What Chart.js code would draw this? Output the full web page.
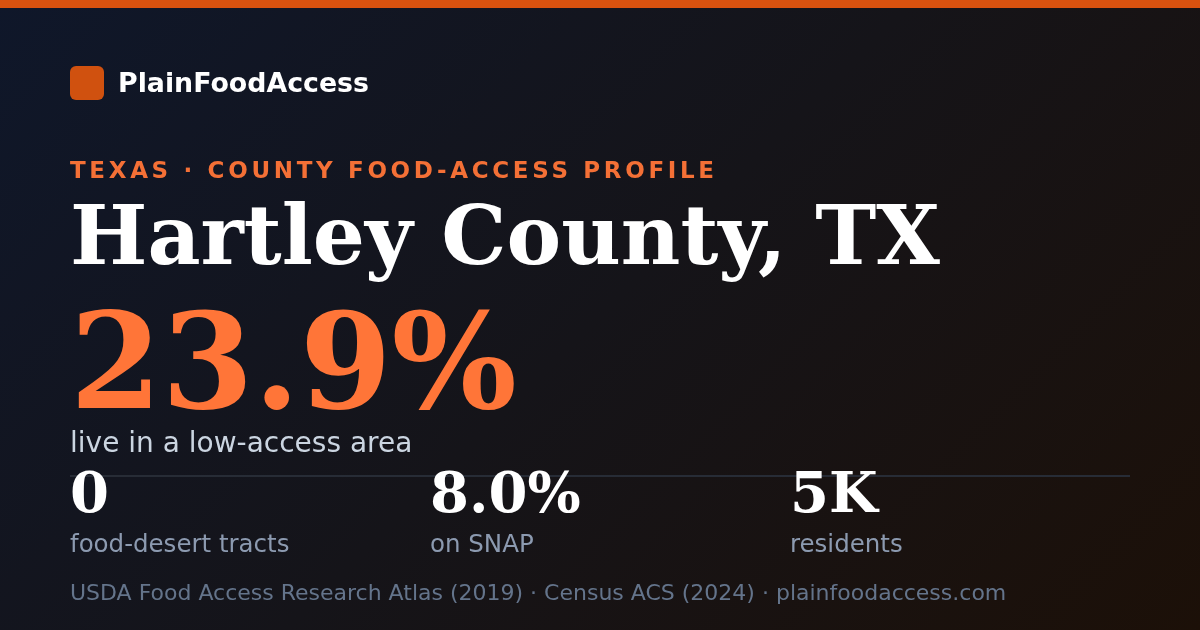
<!DOCTYPE html>
<html>
<head>
<meta charset="utf-8">
<script src="https://cdn.jsdelivr.net/npm/chart.js@4.4.1/dist/chart.umd.min.js"></script>
<style>
  html, body { margin:0; padding:0; width:1200px; height:630px; overflow:hidden; background:#111; }
  #wrap { position:relative; width:1200px; height:630px; }
  #bg { position:absolute; left:0; top:0; width:1200px; height:630px; }
  .t { position:absolute; left:70px; white-space:nowrap; margin:0; line-height:1; }
  #logo { position:absolute; left:70px; top:66px; width:34px; height:34px; border-radius:6px; background:#d0510f; }
  #brand { left:118px; top:67px; font:bold 26.8px "DejaVu Sans"; color:#ffffff; }
  #kicker { top:157px; font:bold 23px "DejaVu Sans"; letter-spacing:3.67px; color:#f47036; }
  #title { top:187px; font:bold 82px "DejaVu Serif"; color:#ffffff; }
  #big { top:284px; font:bold 132px "DejaVu Serif"; color:#ff7538; }
  #sub { top:426px; font:28px "DejaVu Sans"; color:#cbd5e1; }
  .sv { position:absolute; top:464px; font:bold 56px "DejaVu Serif"; color:#ffffff; line-height:1; white-space:nowrap; }
  .sl { position:absolute; top:532px; font:24.5px "DejaVu Sans"; color:#8c9ab0; line-height:1; white-space:nowrap; }
  #foot { top:580px; font:22px "DejaVu Sans"; color:#64748b; }
</style>
</head>
<body>
<div id="wrap">
  <canvas id="bg" width="1200" height="630"></canvas>
  <div id="logo"></div>
  <div class="t" id="brand"></div>
  <div class="t" id="kicker"></div>
  <div class="t" id="title"></div>
  <div class="t" id="big"></div>
  <div class="t" id="sub"></div>
  <div id="stats"></div>
  <div class="t" id="foot"></div>
</div>
<script>
const brand = "PlainFoodAccess";
const kicker = "TEXAS · COUNTY FOOD-ACCESS PROFILE";
const countyName = "Hartley County, TX";
const headlineValue = "23.9%";
const headlineLabel = "live in a low-access area";
const statValues = ["0", "8.0%", "5K"];
const statLabels = ["food-desert tracts", "on SNAP", "residents"];
const footer = "USDA Food Access Research Atlas (2019) · Census ACS (2024) · plainfoodaccess.com";

document.getElementById('brand').textContent = brand;
document.getElementById('kicker').textContent = kicker;
document.getElementById('title').textContent = countyName;
document.getElementById('big').textContent = headlineValue;
document.getElementById('sub').textContent = headlineLabel;
document.getElementById('foot').textContent = footer;
const stats = document.getElementById('stats');
statValues.forEach((v, i) => {
  const x = 70 + i * 360;
  const a = document.createElement('div'); a.className = 'sv'; a.style.left = x + 'px'; a.textContent = v; stats.appendChild(a);
  const b = document.createElement('div'); b.className = 'sl'; b.style.left = x + 'px'; b.textContent = statLabels[i]; stats.appendChild(b);
});

const bgPlugin = {
  id: 'cardBg',
  beforeDraw(chart) {
    const ctx = chart.ctx, w = chart.width, h = chart.height;
    ctx.save();
    const half = (w + h) / 4;
    const cx = w / 2, cy = h / 2;
    const g = ctx.createLinearGradient(cx - half, cy - half, cx + half, cy + half);
    g.addColorStop(0, '#0f172a');
    g.addColorStop(0.5, '#151419');
    g.addColorStop(1, '#1c1008');
    ctx.fillStyle = g;
    ctx.fillRect(0, 0, w, h);
    ctx.fillStyle = '#d9520f';
    ctx.fillRect(0, 0, w, 8);
    ctx.fillStyle = '#272c36';
    ctx.fillRect(70, 475, 1060, 2);
    ctx.restore();
  }
};

new Chart(document.getElementById('bg'), {
  type: 'bar',
  data: { labels: statLabels, datasets: [] },
  options: {
    responsive: false,
    animation: false,
    plugins: { legend: { display: false }, tooltip: { enabled: false } },
    scales: { x: { display: false }, y: { display: false } }
  },
  plugins: [bgPlugin]
});
</script>
</body>
</html>
